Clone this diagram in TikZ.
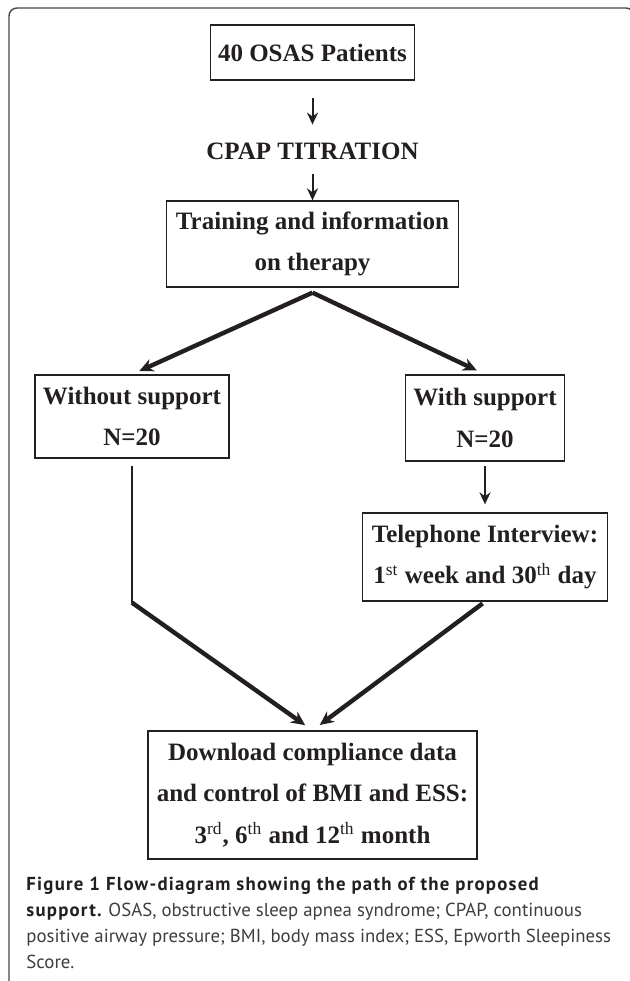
\documentclass[tikz,border=0pt]{standalone}
\usepackage{fontspec}
\setmainfont{Liberation Serif}
\newfontfamily\capfont{PT Sans}[BoldFeatures={LetterSpace=6.5}]
\usetikzlibrary{positioning,calc,arrows.meta}
\definecolor{ink}{RGB}{35,31,32}
\definecolor{capgray}{RGB}{62,62,62}
\definecolor{framegray}{RGB}{70,70,70}
\tikzset{box/.style={draw=ink,line width=0.65pt,align=center,text=ink,inner sep=0pt,font=\bfseries\fontsize{12.5}{20.75}\selectfont}  }
\tikzset{thinarrow/.style={->,draw=ink,line width=1pt}  }
\tikzset{thickarrow/.style={-{Stealth[length=7pt,width=6.5pt]},draw=ink,line width=2.2pt}  }
\tikzset{>={Stealth[length=6pt,width=5.5pt]}}

\begin{document}
\begin{tikzpicture}[x=0.5pt,y=-0.5pt]
	\useasboundingbox (0,0) rectangle (629,981);
	\draw[draw=framegray,line width=0.7pt,rounded corners=4pt] (9,1000) |- (634,8) -- (634,1000);

		\node[box,minimum width=102pt,minimum height=27.5pt] (pat) at (312.5,52.5) {40 OSAS Patients};
		\node[text=ink,inner sep=0pt,font=\bfseries\fontsize{12.5}{15}\selectfont] (titr) at (312.5,151) {CPAP TITRATION};
		\node[box,minimum width=146pt,minimum height=43pt] (train) at (312.5,244) {Training and information\\on therapy};
		\node[box,minimum width=97pt,minimum height=41.5pt] (wo) at (132,416.5) {Without support\\N=20};
		\node[box,minimum width=79.5pt,minimum height=43pt] (ws) at (485,418) {With support\\N=20};
		\node[box,minimum width=122.5pt,minimum height=44pt] (tel) at (485,557) {Telephone Interview:\\1\textsuperscript{\mdseries st} week and 30\textsuperscript{\mdseries th} day};
		\node[box,minimum width=164.5pt,minimum height=64pt] (dl) at (312.5,795) {Download compliance data\\and control of BMI and ESS:\\3\textsuperscript{\mdseries rd}, 6\textsuperscript{\mdseries th} and 12\textsuperscript{\mdseries th} month};

		\coordinate (split) at ($(train.south)+(0,5)$);
		\coordinate (lbend) at ($(wo.south)+(0,144)$);

			\draw[thinarrow,shorten <=8.5pt,shorten >=8.8pt] (pat) -- (titr);
			\draw[thinarrow,shorten <=7pt] (titr) -- (train);
			\draw[thickarrow,shorten >=4pt] (split) -- (wo.north);
			\draw[thickarrow,shorten >=4.5pt] (split) -- (ws.north);
			\draw[draw=ink,line width=1.1pt,shorten <=3.5pt] (wo.south) -- (lbend);
			\draw[thickarrow,shorten >=4.5pt] (lbend) -- (dl.north);
			\draw[thinarrow,shorten <=2pt,shorten >=4pt] (ws) -- (tel);
			\draw[thickarrow,shorten <=1.5pt,shorten >=4.5pt] (tel.south) -- (dl.north);

	\node[anchor=north west,inner sep=0pt,align=left,text=capgray,font=\capfont\fontsize{9.4}{13}\selectfont] (cap) at (26,877)
		{{\color{ink}\bfseries Figure 1 Flow-diagram showing the path of the proposed}\\
		{\color{ink}\bfseries support.} OSAS, obstructive sleep apnea syndrome; CPAP, continuous\\
		positive airway pressure; BMI, body mass index; ESS, Epworth Sleepiness\\
		Score.};
\end{tikzpicture}
\end{document}
